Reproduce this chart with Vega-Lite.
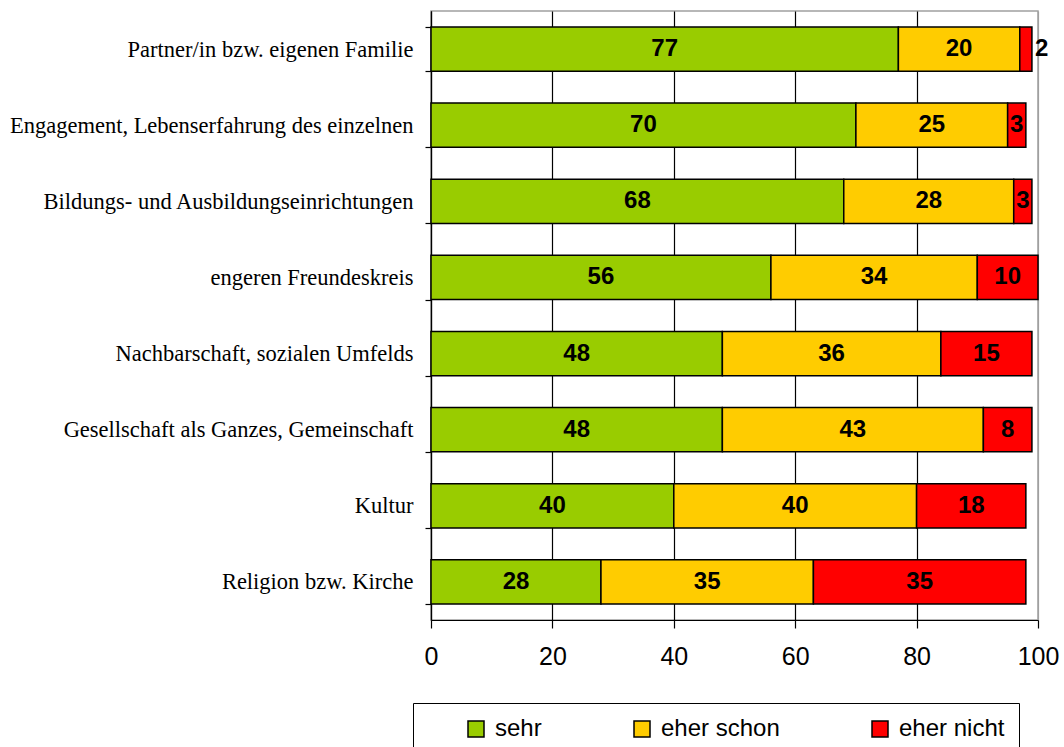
{
  "$schema": "https://vega.github.io/schema/vega-lite/v6.json",
  "width": 607,
  "height": 609,
  "autosize": {"type": "none"},
  "padding": {"left": 431, "top": 11, "right": 26, "bottom": 127},
  "background": "white",
  "config": {
    "view": {"stroke": "#a0a0a0", "strokeWidth": 1.5},
    "axis": {"labelColor": "black", "domainColor": "black", "tickColor": "black", "domainWidth": 1.2, "tickWidth": 1.2}
  },
  "data": {
    "values": [
      {"cat": "Partner/in bzw. eigenen Familie", "answer": "sehr", "o": 1, "value": 77},
      {"cat": "Partner/in bzw. eigenen Familie", "answer": "eher schon", "o": 2, "value": 20},
      {"cat": "Partner/in bzw. eigenen Familie", "answer": "eher nicht", "o": 3, "value": 2},
      {"cat": "Engagement, Lebenserfahrung des einzelnen", "answer": "sehr", "o": 1, "value": 70},
      {"cat": "Engagement, Lebenserfahrung des einzelnen", "answer": "eher schon", "o": 2, "value": 25},
      {"cat": "Engagement, Lebenserfahrung des einzelnen", "answer": "eher nicht", "o": 3, "value": 3},
      {"cat": "Bildungs- und Ausbildungseinrichtungen", "answer": "sehr", "o": 1, "value": 68},
      {"cat": "Bildungs- und Ausbildungseinrichtungen", "answer": "eher schon", "o": 2, "value": 28},
      {"cat": "Bildungs- und Ausbildungseinrichtungen", "answer": "eher nicht", "o": 3, "value": 3},
      {"cat": "engeren Freundeskreis", "answer": "sehr", "o": 1, "value": 56},
      {"cat": "engeren Freundeskreis", "answer": "eher schon", "o": 2, "value": 34},
      {"cat": "engeren Freundeskreis", "answer": "eher nicht", "o": 3, "value": 10},
      {"cat": "Nachbarschaft, sozialen Umfelds", "answer": "sehr", "o": 1, "value": 48},
      {"cat": "Nachbarschaft, sozialen Umfelds", "answer": "eher schon", "o": 2, "value": 36},
      {"cat": "Nachbarschaft, sozialen Umfelds", "answer": "eher nicht", "o": 3, "value": 15},
      {"cat": "Gesellschaft als Ganzes, Gemeinschaft", "answer": "sehr", "o": 1, "value": 48},
      {"cat": "Gesellschaft als Ganzes, Gemeinschaft", "answer": "eher schon", "o": 2, "value": 43},
      {"cat": "Gesellschaft als Ganzes, Gemeinschaft", "answer": "eher nicht", "o": 3, "value": 8},
      {"cat": "Kultur", "answer": "sehr", "o": 1, "value": 40},
      {"cat": "Kultur", "answer": "eher schon", "o": 2, "value": 40},
      {"cat": "Kultur", "answer": "eher nicht", "o": 3, "value": 18},
      {"cat": "Religion bzw. Kirche", "answer": "sehr", "o": 1, "value": 28},
      {"cat": "Religion bzw. Kirche", "answer": "eher schon", "o": 2, "value": 35},
      {"cat": "Religion bzw. Kirche", "answer": "eher nicht", "o": 3, "value": 35}
    ]
  },
  "transform": [
    {"stack": "value", "groupby": ["cat"], "sort": [{"field": "o"}], "as": ["v0", "v1"]},
    {"calculate": "(datum.v0 + datum.v1) / 2", "as": "mid"}
  ],
  "encoding": {
    "y": {
      "field": "cat",
      "type": "nominal",
      "sort": null,
      "scale": {"paddingInner": 0.42, "paddingOuter": 0.21},
      "axis": {
        "title": null,
        "tickBand": "extent",
        "tickSize": 6,
        "labelPadding": 12,
        "labelFont": "Liberation Serif",
        "labelFontSize": 22.5,
        "labelLimit": 430
      }
    }
  },
  "layer": [
    {
      "mark": {"type": "bar", "stroke": "black", "strokeWidth": 1.5},
      "encoding": {
        "x": {
          "field": "v0",
          "type": "quantitative",
          "scale": {"domain": [0, 100], "nice": false},
          "axis": {
            "title": null,
            "values": [0, 20, 40, 60, 80, 100],
            "grid": true,
            "gridColor": {"condition": {"test": "datum.value == 100", "value": "#a0a0a0"}, "value": "black"},
            "gridWidth": 1.2,
            "tickSize": 8,
            "labelPadding": 16,
            "labelFlush": false,
            "labelFont": "Liberation Sans",
            "labelFontSize": 25
          }
        },
        "x2": {"field": "v1"},
        "color": {
          "field": "answer",
          "type": "nominal",
          "scale": {"domain": ["sehr", "eher schon", "eher nicht"], "range": ["#99CC00", "#FFCC00", "#FF0000"]},
          "legend": {
            "title": null,
            "orient": "none",
            "legendX": -18,
            "legendY": 692,
            "direction": "horizontal",
            "columns": 3,
            "columnPadding": 51,
            "padding": 14,
            "symbolOffset": 37,
            "strokeColor": "black",
            "fillColor": "white",
            "symbolType": "square",
            "symbolSize": 256,
            "symbolStrokeColor": "black",
            "symbolStrokeWidth": 1.5,
            "symbolOpacity": 1,
            "labelFont": "Liberation Sans",
            "labelFontSize": 24,
            "labelColor": "black",
            "labelOffset": 7
          }
        },
        "order": {"field": "o", "type": "quantitative"}
      }
    },
    {
      "transform": [{"filter": "datum.value > 2"}],
      "mark": {"type": "text", "font": "Liberation Sans", "fontWeight": "bold", "fontSize": 24, "baseline": "middle", "color": "black"},
      "encoding": {
        "x": {"field": "mid", "type": "quantitative"},
        "text": {"field": "value", "type": "quantitative"}
      }
    },
    {
      "transform": [{"filter": "datum.value <= 2"}],
      "mark": {"type": "text", "font": "Liberation Sans", "fontWeight": "bold", "fontSize": 24, "baseline": "middle", "align": "left", "dx": 3, "color": "black"},
      "encoding": {
        "x": {"field": "v1", "type": "quantitative"},
        "text": {"field": "value", "type": "quantitative"}
      }
    }
  ]
}
